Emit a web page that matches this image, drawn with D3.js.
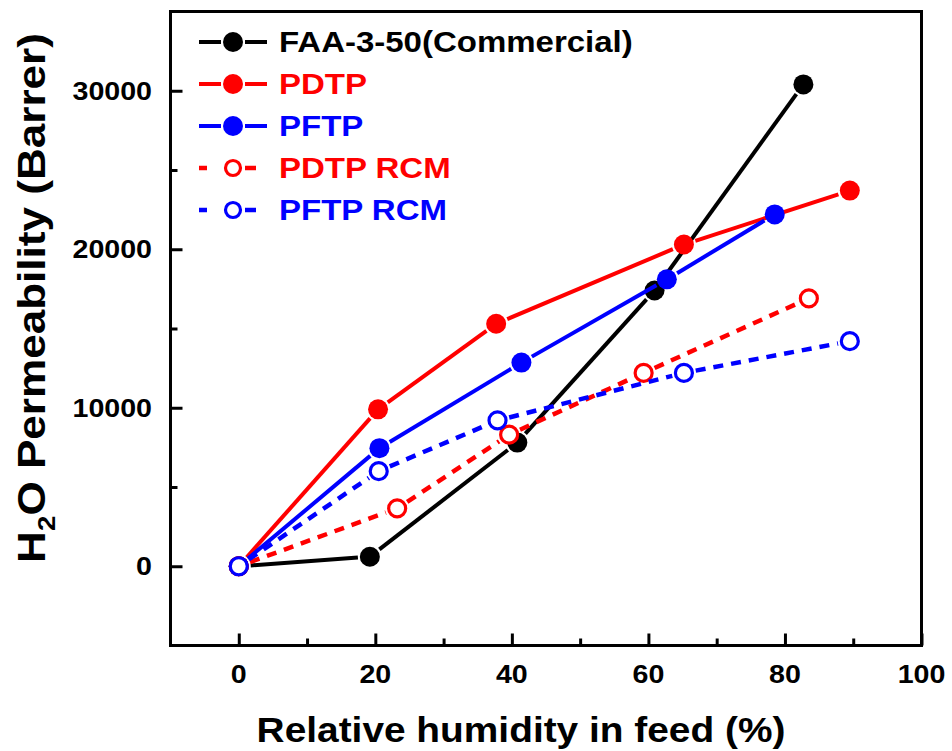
<!DOCTYPE html>
<html lang="en">
    <head>
        <meta charset="utf-8">
        <title>H2O Permeability vs Relative Humidity</title>
        <script src="https://d3js.org/d3.v7.min.js"></script>
        <style type="text/css">
            body{
              margin: 0;
              background: #fff;
            }
            svg{
              display: block;
              font-family: "Liberation Sans", Arial, sans-serif;
              font-weight: bold;
            }
        </style>
    </head>
    <body>
        <script type="text/javascript">

        const w = 952;
        const h = 751;

        // relative humidity (%) and permeability (Barrer) for each series
        const rhFAA = [0, 19.2, 40.8, 60.9, 82.7];
        const permFAA = [0, 600, 7800, 17400, 30400];

        const rhPDTP = [0, 20.4, 37.7, 65.2, 89.5];
        const permPDTP = [0, 9900, 15300, 20300, 23700];

        const rhPFTP = [0, 20.6, 41.4, 62.7, 78.5];
        const permPFTP = [0, 7450, 12850, 18100, 22200];

        const rhPDTPrcm = [0, 23.2, 39.6, 59.3, 83.5];
        const permPDTPrcm = [0, 3650, 8300, 12200, 16900];

        const rhPFTPrcm = [0, 20.5, 37.9, 65.2, 89.5];
        const permPFTPrcm = [0, 6000, 9200, 12200, 14200];

        const seriesNames = ["FAA-3-50(Commercial)", "PDTP", "PFTP", "PDTP RCM", "PFTP RCM"];

        const xTicks = [0, 20, 40, 60, 80, 100];
        const xMinor = [10, 30, 50, 70, 90];
        const yTicks = [0, 10000, 20000, 30000];
        const yMinor = [5000, 15000, 25000];

        const series = [
          {name: seriesNames[0], x: rhFAA, y: permFAA, color: "#000000", open: false, dashed: false},
          {name: seriesNames[1], x: rhPDTP, y: permPDTP, color: "#ff0000", open: false, dashed: false},
          {name: seriesNames[2], x: rhPFTP, y: permPFTP, color: "#0000ff", open: false, dashed: false},
          {name: seriesNames[3], x: rhPDTPrcm, y: permPDTPrcm, color: "#ff0000", open: true, dashed: true},
          {name: seriesNames[4], x: rhPFTPrcm, y: permPFTPrcm, color: "#0000ff", open: true, dashed: true}
        ];

        //scales
        const x = d3.scaleLinear().domain([-10, 100]).range([170.5, 921.5]);
        const y = d3.scaleLinear().domain([-5000, 35000]).range([645.5, 11.5]);

        const svg = d3.select("body").append("svg")
                      .attr("width", w)
                      .attr("height", h);

        // stretched bold text like the original export
        function label(g, tx, ty, str, size, anchor, rot, sx){
          return g.append("text")
                  .attr("transform", `translate(${tx},${ty}) rotate(${rot || 0}) scale(${sx || 1.1},1)`)
                  .attr("text-anchor", anchor)
                  .attr("font-size", size)
                  .text(str);
        }

        //axes (ticks point inward)
        svg.append("g")
           .attr("transform", `translate(0,${y.range()[0]})`)
           .call(d3.axisBottom(x).tickValues(xTicks).tickSizeInner(-12).tickSizeOuter(0).tickFormat(""));
        svg.append("g")
           .attr("transform", `translate(0,${y.range()[0]})`)
           .call(d3.axisBottom(x).tickValues(xMinor).tickSizeInner(-7).tickSizeOuter(0).tickFormat(""));

        svg.append("g")
           .attr("transform", `translate(${x.range()[0]},0)`)
           .call(d3.axisLeft(y).tickValues(yTicks).tickSizeInner(-12).tickSizeOuter(0).tickFormat(""));
        svg.append("g")
           .attr("transform", `translate(${x.range()[0]},0)`)
           .call(d3.axisLeft(y).tickValues(yMinor).tickSizeInner(-7).tickSizeOuter(0).tickFormat(""));

        svg.selectAll(".domain").remove();
        svg.selectAll(".tick line").attr("stroke", "#000").attr("stroke-width", 3);

        //frame
        svg.append("rect")
           .attr("x", x.range()[0])
           .attr("y", y.range()[1])
           .attr("width", x.range()[1] - x.range()[0])
           .attr("height", y.range()[0] - y.range()[1])
           .attr("fill", "none")
           .attr("stroke", "#000")
           .attr("stroke-width", 3);

        //tick labels
        xTicks.forEach(v => label(svg, x(v), 683, d3.format("d")(v), 26, "middle", 0, 1.1));
        yTicks.forEach(v => label(svg, 152, y(v) + 9, d3.format("d")(v), 26, "end", 0, 1.1));

        //axis titles
        label(svg, 521, 742, "Relative humidity in feed (%)", 35, "middle", 0, 1.11);

        const yt = svg.append("text")
           .attr("transform", `translate(45,298) rotate(-90) scale(1.16,1)`)
           .attr("text-anchor", "middle")
           .attr("font-size", 38);
        yt.append("tspan").text("H");
        yt.append("tspan").attr("font-size", 24).attr("dy", 10).text("2");
        yt.append("tspan").attr("dy", -10).text("O Permeability (Barrer)");

        //lines with a gap around each marker
        const gap = 12;
        const plot = svg.append("g");

        series.forEach(s => {
          const pts = s.x.map((v, i) => [x(v), y(s.y[i])]);
          const segs = d3.pairs(pts).map(([a, b]) => {
            const dx = b[0] - a[0], dy = b[1] - a[1];
            const len = Math.hypot(dx, dy);
            const ux = dx / len, uy = dy / len;
            return [a[0] + ux * gap, a[1] + uy * gap, b[0] - ux * gap, b[1] - uy * gap];
          });
          plot.append("g")
              .selectAll("line")
              .data(segs)
              .enter()
              .append("line")
              .attr("x1", d => d[0])
              .attr("y1", d => d[1])
              .attr("x2", d => d[2])
              .attr("y2", d => d[3])
              .attr("stroke", s.color)
              .attr("stroke-width", s.dashed ? 4.5 : 4)
              .attr("stroke-dasharray", s.dashed ? "10,8" : null);

          plot.append("g")
              .selectAll("circle")
              .data(pts)
              .enter()
              .append("circle")
              .attr("cx", d => d[0])
              .attr("cy", d => d[1])
              .attr("r", s.open ? 8.5 : 10)
              .attr("fill", s.open ? "#fff" : s.color)
              .attr("stroke", s.open ? s.color : "none")
              .attr("stroke-width", 3.2);
        });

        //legend
        const legend = svg.append("g");
        series.forEach((s, i) => {
          const ly = 42 + i * 42;
          const g = legend.append("g");
          const segs = s.dashed ? [[199, 207], [245, 256]] : [[199, 221], [245, 267]];
          segs.forEach(sg => {
            g.append("line")
             .attr("x1", sg[0]).attr("x2", sg[1])
             .attr("y1", ly).attr("y2", ly)
             .attr("stroke", s.color)
             .attr("stroke-width", s.dashed ? 4.5 : 4);
          });
          g.append("circle")
           .attr("cx", 233)
           .attr("cy", ly)
           .attr("r", s.open ? 7.5 : 10)
           .attr("fill", s.open ? "#fff" : s.color)
           .attr("stroke", s.open ? s.color : "none")
           .attr("stroke-width", 3.2);
          label(g, 279, ly + 9.5, s.name, 30, "start", 0, 1.1).attr("fill", s.color);
        });

        </script>
    </body>
</html>
